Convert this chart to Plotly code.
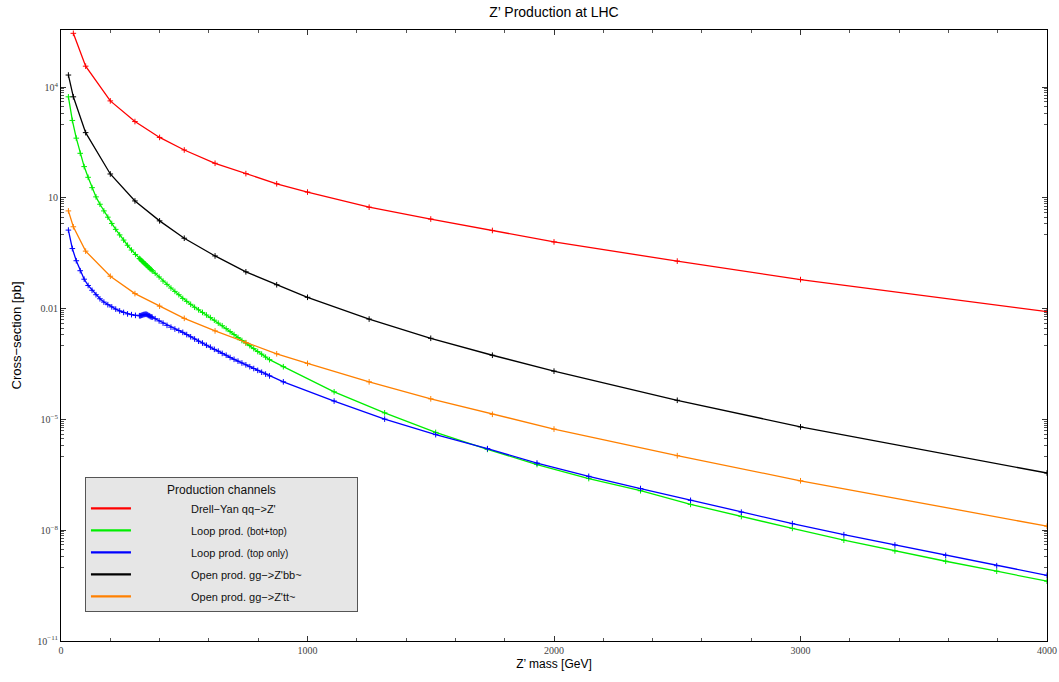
import plotly.graph_objects as go

# ---------------- data (cross-sections given as log10 of pb) ----------------
dy_mass = [50, 100, 200, 300, 400, 500, 625, 750, 875, 1000, 1250, 1500, 1750, 2000, 2500, 3000, 4000]
dy_log10 = [5.46, 4.57, 3.63, 3.07, 2.64, 2.30, 1.94, 1.66, 1.385, 1.16, 0.75, 0.43, 0.12, -0.19, -0.71, -1.21, -2.08]

open_mass = [30, 50, 100, 200, 300, 400, 500, 625, 750, 875, 1000, 1250, 1500, 1750, 2000, 2500, 3000, 4000]
bb_log10 = [4.33, 3.74, 2.77, 1.65, 0.92, 0.38, -0.09, -0.57, -1.0, -1.35, -1.69, -2.28, -2.80, -3.26, -3.69, -4.48, -5.20, -6.45]
tt_log10 = [0.65, 0.22, -0.44, -1.12, -1.59, -1.93, -2.26, -2.60, -2.92, -3.22, -3.48, -3.98, -4.44, -4.86, -5.26, -5.98, -6.66, -7.89]

loop_mass = [30, 46, 62, 78, 94, 110, 126, 142, 158, 174, 190, 206, 222, 238, 254, 270, 286, 302, 318,
             322, 326, 330, 334, 338, 342, 346, 350, 354, 358, 362, 366, 370,
             382, 398, 414, 430, 446, 462, 478, 494, 510, 526, 542, 558, 574, 590, 606, 622, 638, 654,
             670, 686, 702, 718, 734, 750, 766, 782, 798, 814, 830, 846,
             902, 1108, 1313, 1520, 1730, 1931, 2141, 2351, 2554, 2760, 2967, 3176, 3383, 3589, 3796, 4000]
loop_bt_log10 = [3.74, 3.10, 2.62, 2.21, 1.85, 1.56, 1.28, 1.03, 0.83, 0.65, 0.48, 0.31, 0.15, 0.00, -0.14, -0.28, -0.41, -0.53, -0.64,
                 -0.66, -0.69, -0.72, -0.74, -0.77, -0.79, -0.82, -0.84, -0.87, -0.89, -0.92, -0.94, -0.97,
                 -1.04, -1.14, -1.25, -1.34, -1.44, -1.53, -1.62, -1.72, -1.80, -1.88, -1.96, -2.03, -2.10, -2.17, -2.24, -2.31, -2.39, -2.46,
                 -2.54, -2.62, -2.70, -2.78, -2.86, -2.93, -3.00, -3.08, -3.16, -3.23, -3.31, -3.38,
                 -3.57, -4.25, -4.82, -5.35, -5.81, -6.22, -6.60, -6.93, -7.30, -7.63, -7.95, -8.27, -8.56, -8.84, -9.11, -9.38]
loop_t_log10 = [0.13, -0.37, -0.70, -0.97, -1.20, -1.37, -1.50, -1.62, -1.73, -1.82, -1.89, -1.95, -2.01, -2.06, -2.10, -2.14, -2.16, -2.18, -2.19,
                -2.19, -2.18, -2.17, -2.16, -2.155, -2.15, -2.15, -2.16, -2.18, -2.19, -2.21, -2.22, -2.23,
                -2.27, -2.33, -2.39, -2.45, -2.50, -2.55, -2.59, -2.64, -2.70, -2.76, -2.82, -2.88, -2.93, -2.99, -3.04, -3.10, -3.15, -3.21,
                -3.26, -3.32, -3.37, -3.42, -3.47, -3.52, -3.57, -3.62, -3.67, -3.72, -3.77, -3.82,
                -3.98, -4.50, -4.99, -5.41, -5.79, -6.18, -6.54, -6.87, -7.19, -7.51, -7.82, -8.12, -8.40, -8.68, -8.96, -9.22]

series_names = ["Drell\u2212Yan qq\u2212>Z'",
                "Loop prod. <span style='font-size:10px'>(bot+top)</span>",
                "Loop prod. <span style='font-size:10px'>(top only)</span>",
                "Open prod. gg\u2212>Z'bb~",
                "Open prod. gg\u2212>Z'tt~"]
series_colors = ["#ff0000", "#00ee00", "#0000ff", "#000000", "#ff8000"]

y_major_exp = [4, 1, -2, -5, -8, -11]
y_major_text = ["10<sup>4</sup>", "10", "0.01", "10<sup>\u22125</sup>", "10<sup>\u22128</sup>", "10<sup>\u221211</sup>"]
x_major = [0, 1000, 2000, 3000, 4000]

# ---------------- figure ----------------
series = [
    (dy_mass, dy_log10),
    (loop_mass, loop_bt_log10),
    (loop_mass, loop_t_log10),
    (open_mass, bb_log10),
    (open_mass, tt_log10),
]

fig = go.Figure()
for (xs, ls), col in zip(series, series_colors):
    fig.add_trace(go.Scatter(
        x=xs, y=[10 ** v for v in ls],
        mode="lines+markers", showlegend=False, hoverinfo="x+y",
        line=dict(color=col, width=1.3),
        marker=dict(symbol="cross-thin", size=4, line=dict(color=col, width=1), color=col),
    ))

# legend-only entries (line sample without markers)
lead = "\u00a0" * 18
trail = "\u00a0" * 21
for i, (name, col) in enumerate(zip(series_names, series_colors)):
    fig.add_trace(go.Scatter(
        x=[None], y=[None], mode="lines",
        name=lead + name + (trail if i == 1 else ""),
        legendgroup=f"g{i}",
        line=dict(color=col, width=2.2),
    ))

minor_y = []
for p in y_major_exp:
    for k in range(1, 10):
        minor_y.append(k * 10 ** (p - 1))

tickfont = dict(family="Liberation Serif, Times New Roman, serif", size=10, color="#444")

fig.update_layout(
    width=1059, height=682,
    paper_bgcolor="white", plot_bgcolor="white",
    margin=dict(l=61, r=12, t=30, b=41, autoexpand=False),
    title=dict(text="Z\u2019 Production at LHC", x=0.5, xref="paper", y=0.982, yanchor="middle",
               font=dict(family="Liberation Sans, Arial, sans-serif", size=14, color="black")),
    showlegend=True,
    legend=dict(
        x=0.0243, y=0.268, xanchor="left", yanchor="top",
        bgcolor="#e6e6e6", bordercolor="#555", borderwidth=1,
        font=dict(family="Liberation Sans, Arial, sans-serif", size=11, color="#111"),
        title=dict(text="Production channels", side="top center",
                   font=dict(family="Liberation Sans, Arial, sans-serif", size=12, color="#111")),
        tracegroupgap=3,
        itemwidth=40,
    ),
    xaxis=dict(
        range=[0, 4000], showgrid=False, zeroline=False, automargin=False,
        showline=True, linecolor="black", linewidth=1, mirror="ticks",
        ticks="inside", ticklen=5, tickcolor="#333", tickvals=x_major,
        tickfont=tickfont,
        minor=dict(dtick=200, tick0=0, ticks="inside", ticklen=3, tickcolor="#555"),
        title=dict(text="Z\u2019 mass [GeV]", standoff=4,
                   font=dict(family="Liberation Sans, Arial, sans-serif", size=12, color="black")),
    ),
    yaxis=dict(
        type="log", range=[-11, 5.55], showgrid=False, zeroline=False, automargin=False,
        showline=True, linecolor="black", linewidth=1, mirror="ticks",
        ticks="inside", ticklen=5, tickcolor="#333",
        tickvals=[10 ** p for p in y_major_exp], ticktext=y_major_text,
        tickfont=tickfont,
        minor=dict(tickmode="array", tickvals=minor_y, ticks="inside", ticklen=3, tickcolor="#555"),
        title=dict(text="Cross\u2212section [pb]", standoff=12,
                   font=dict(family="Liberation Sans, Arial, sans-serif", size=13, color="black")),
    ),
)

# the page's default 8px body margin would offset the figure; remove it
fig.write_html("out.html", config={"displayModeBar": False},
               post_script="document.body.style.margin='0';document.body.style.overflow='hidden';")
